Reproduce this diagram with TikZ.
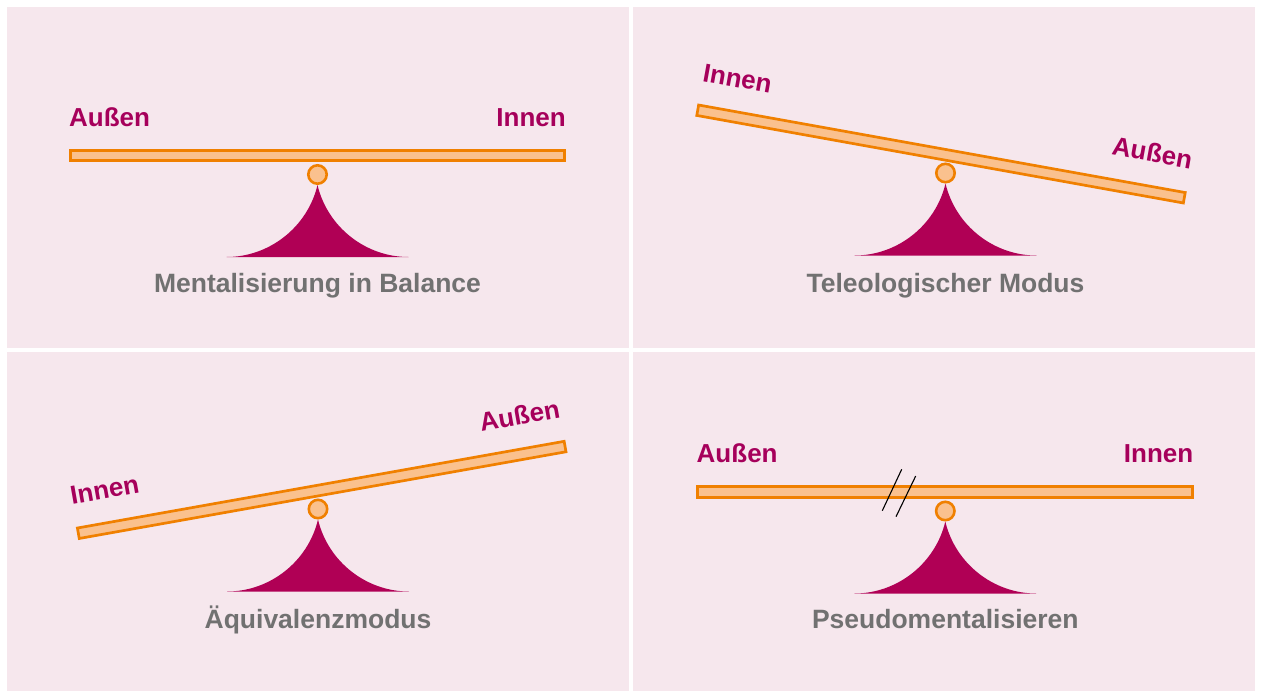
\documentclass[tikz,border=0pt]{standalone}
\usepackage{fontspec}
\setmainfont{Liberation Sans}
\definecolor{panel}{HTML}{F6E7ED}
\definecolor{beamfill}{HTML}{FAC18E}
\definecolor{beamline}{HTML}{F08000}
\definecolor{fulcrumc}{HTML}{B00055}
\definecolor{lab}{HTML}{A6005B}
\definecolor{ttl}{HTML}{717171}
\tikzset{
  panelbox/.style={fill=panel, draw=none},
  beambar/.style={fill=beamfill, draw=beamline, line width=2.7pt},
  pivotball/.style={fill=beamfill, draw=beamline, line width=2.6pt},
  side/.style={text=lab, font=\fontsize{26}{26}\selectfont\bfseries, inner sep=0pt, transform shape},
  ttlnode/.style={text=ttl, font=\fontsize{26.5}{26}\selectfont\bfseries, inner sep=0pt, anchor=base},
  breakmark/.style={draw=black, line width=1.1pt},
}
% fulcrum + ball: #1 x, #2 ball centre y
\newcommand\myfulc[2]{%
  \fill[fulcrumc] (#1,#2+10.5) .. controls (#1+10,#2+52.5) and (#1+48,#2+82.5) .. (#1+91,#2+82.5)
     -- (#1-91,#2+82.5) .. controls (#1-48,#2+82.5) and (#1-10,#2+52.5) .. (#1,#2+10.5) -- cycle;
  \draw[pivotball] (#1,#2) circle[radius=9.2];
}
% beam: #1 cx, #2 cy, #3 angle, #4 left text, #5 right text, #6 prefix
\newcommand\mybeam[6]{%
  \begin{scope}[shift={(#1,#2)}, rotate=#3]
    \draw[beambar] (-247.2,-5.3) rectangle (247.2,5.3);
    \node[side, anchor=base west] (#6L) at (-248.5,-29.5) {#4};
    \node[side, anchor=base east] (#6R) at (248.5,-29.5) {#5};
  \end{scope}
}
\begin{document}
\begin{tikzpicture}[x=1pt,y=-1pt]
  \useasboundingbox (0,0) rectangle (1261,691);
  \fill[white] (0,0) rectangle (1261,691);
  % panels
  \fill[panelbox] (7,7) rectangle (629,348);
  \fill[panelbox] (633,7) rectangle (1255,348);
  \fill[panelbox] (7,352) rectangle (629,691);
  \fill[panelbox] (633,352) rectangle (1255,691);

  % top left
  \myfulc{317.5}{174.5}
  \mybeam{317.5}{155.5}{0}{Außen}{Innen}{tl}
  \node[ttlnode] (tlt) at (317.5,292.5) {Mentalisierung in Balance};

  % top right
  \myfulc{945.5}{173}
  \mybeam{941}{154}{-10.2}{Innen}{Außen}{tr}
  \node[ttlnode] (trt) at (945.5,292.5) {Teleologischer Modus};

  % bottom left
  \myfulc{318}{509}
  \mybeam{321.7}{489.9}{10.1}{Innen}{Außen}{bl}
  \node[ttlnode] (blt) at (318,628.5) {Äquivalenzmodus};

  % bottom right
  \myfulc{945.3}{511}
  \mybeam{945}{492}{0}{Außen}{Innen}{br}
  \node[ttlnode] (brt) at (945.3,628.5) {Pseudomentalisieren};
  \draw[breakmark] (901.7,469.3) -- (882.3,510.7);
  \draw[breakmark] (915.7,476) -- (896,516.7);
\end{tikzpicture}
\end{document}
